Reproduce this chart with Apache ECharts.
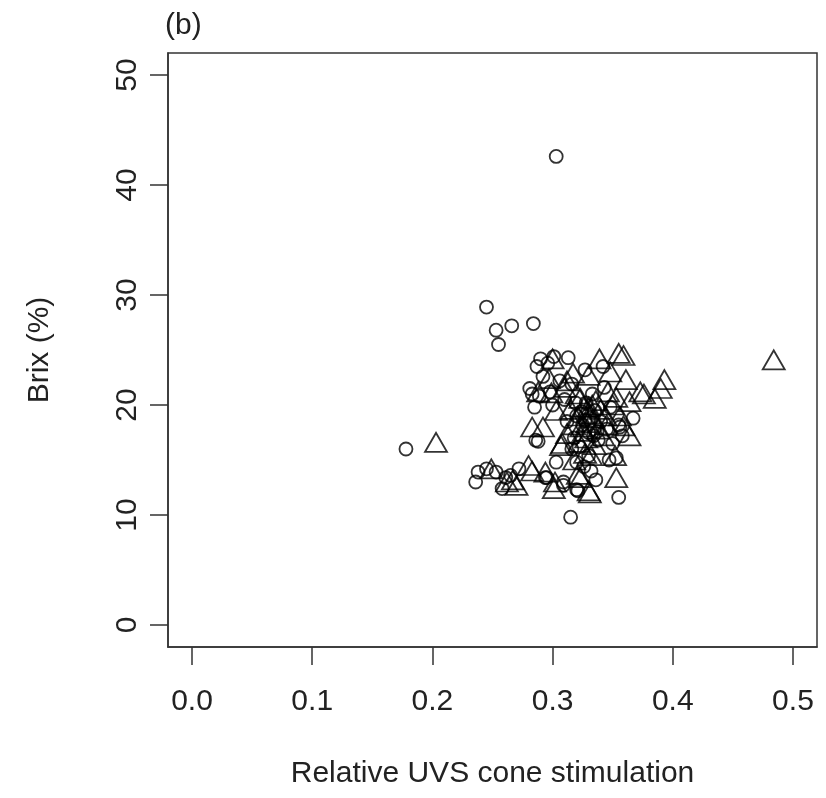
<!DOCTYPE html>
<html>
<head>
<meta charset="utf-8">
<script src="https://cdn.jsdelivr.net/npm/echarts@6/dist/echarts.min.js"></script>
<style>html,body{margin:0;padding:0;background:#fff}#c{width:826px;height:798px}</style>
</head>
<body>
<div id="c"></div>
<script>
// tick labels
const xTicks = [0, 0.1, 0.2, 0.3, 0.4, 0.5];
const yTicks = [0, 10, 20, 30, 40, 50];
// group shown with circles: [relative UVS cone stimulation, Brix %]
const circlePoints = [
  [0.303,42.6],[0.178,16.0],[0.245,28.9],[0.253,26.8],[0.255,25.5],[0.266,27.2],[0.284,27.4],
  [0.290,24.2],[0.301,24.4],[0.313,24.3],[0.287,23.5],[0.296,23.8],[0.281,21.5],[0.285,19.8],
  [0.289,20.8],[0.316,21.9],[0.343,21.6],[0.367,18.8],[0.356,18.0],[0.288,16.7],[0.353,15.2],
  [0.303,14.8],[0.320,14.8],[0.330,15.4],[0.294,13.4],[0.272,14.2],[0.261,13.4],[0.258,12.4],
  [0.309,12.7],[0.321,12.2],[0.332,14.0],[0.355,11.6],[0.315,9.8],[0.236,13.0],[0.238,13.9],
  [0.245,14.2],[0.253,13.9],[0.265,13.6],[0.295,13.4],[0.286,16.8],[0.309,13.0],[0.320,12.3],
  [0.320,19.0],[0.325,18.2],[0.330,17.5],[0.335,19.5],[0.318,17.0],[0.340,18.5],[0.345,17.8],
  [0.328,20.2],[0.312,18.5],[0.338,16.8],[0.322,16.2],[0.348,19.8],[0.333,21.0],[0.310,20.5],
  [0.306,22.2],[0.298,21.2],[0.358,17.2],[0.350,16.5],[0.327,23.2],[0.342,23.5],[0.292,22.6],
  [0.300,20.0],[0.283,21.0],[0.316,16.0],[0.347,15.0],[0.336,13.2],[0.326,14.4],[0.355,18.2],
  [0.324,19.4],[0.331,18.8],[0.337,17.6],[0.319,20.2],[0.327,18.6],[0.334,17.2]
];
// group shown with triangles
const trianglePoints = [
  [0.203,16.6],[0.484,24.1],[0.339,24.2],[0.355,24.7],[0.359,24.5],[0.348,23.0],[0.317,22.9],
  [0.330,22.7],[0.300,24.2],[0.361,22.3],[0.299,21.1],[0.288,21.2],[0.373,21.2],[0.385,20.6],
  [0.393,22.3],[0.390,21.5],[0.353,20.7],[0.323,20.6],[0.303,19.5],[0.283,18.0],[0.292,18.0],
  [0.308,16.5],[0.364,17.2],[0.332,15.4],[0.283,14.0],[0.353,13.4],[0.321,13.7],[0.302,13.0],
  [0.331,12.0],[0.262,13.0],[0.249,14.2],[0.270,12.7],[0.267,13.2],[0.280,14.5],[0.307,16.3],
  [0.301,12.4],[0.323,13.4],[0.352,15.4],[0.359,18.1],[0.327,15.6],[0.294,13.9],[0.330,12.2],
  [0.326,19.8],[0.318,18.2],[0.334,18.8],[0.340,19.6],[0.312,17.4],[0.345,18.2],[0.328,17.0],
  [0.336,20.4],[0.320,21.0],[0.350,20.0],[0.342,17.2],[0.315,19.6],[0.324,18.0],[0.331,19.2],
  [0.338,17.8],[0.310,21.6],[0.346,21.2],[0.356,19.0],[0.322,16.6],[0.318,15.0],[0.364,20.3],
  [0.376,21.0],[0.297,22.4],[0.312,22.2],[0.329,18.4],[0.335,16.4],[0.344,19.0],[0.326,17.6],
  [0.333,20.0],[0.321,19.0],[0.330,19.8]
];

const FONT = '"Liberation Sans", Arial, sans-serif';
const FS = 30;
const chart = echarts.init(document.getElementById('c'), null, {renderer: 'canvas'});
chart.setOption({
  animation: false,
  backgroundColor: '#fff',
  title: {
    text: '(b)', left: 160, top: 6,
    textStyle: {fontFamily: FONT, fontSize: FS, fontWeight: 'normal', color: '#222'}
  },
  grid: {left: 168, right: 9, top: 53, bottom: 151, show: true, borderColor: '#333', borderWidth: 1.5, backgroundColor: 'transparent'},
  xAxis: {
    type: 'value', min: -0.02, max: 0.52, position: 'bottom',
    name: 'Relative UVS cone stimulation', nameLocation: 'middle', nameGap: 127,
    nameTextStyle: {fontFamily: FONT, fontSize: FS, color: '#222', verticalAlign: 'middle'},
    axisLine: {show: true, onZero: false, lineStyle: {color: '#333', width: 1.5}},
    axisTick: {show: true, inside: false, customValues: xTicks, length: 18, lineStyle: {color: '#333', width: 1.5}},
    axisLabel: {customValues: xTicks, margin: 55, verticalAlign: 'middle', fontFamily: FONT, fontSize: FS, color: '#222',
      formatter: v => v.toFixed(1)},
    splitLine: {show: false}
  },
  yAxis: {
    type: 'value', min: -2, max: 52, position: 'left',
    name: 'Brix (%)', nameLocation: 'middle', nameGap: 128, nameRotate: 90,
    nameTextStyle: {fontFamily: FONT, fontSize: FS, color: '#222', verticalAlign: 'middle'},
    axisLine: {show: true, onZero: false, lineStyle: {color: '#333', width: 1.5}},
    axisTick: {show: true, inside: false, customValues: yTicks, length: 18, lineStyle: {color: '#333', width: 1.5}},
    axisLabel: {customValues: yTicks, margin: 40, rotate: 90, align: 'center', verticalAlign: 'middle', fontFamily: FONT, fontSize: FS, color: '#222'},
    splitLine: {show: false}
  },
  series: [
    {type: 'scatter', name: 'circles', data: circlePoints, symbol: 'circle', symbolSize: 13,
      itemStyle: {color: 'rgba(0,0,0,0)', borderColor: '#000', borderWidth: 1.8}},
    {type: 'scatter', name: 'triangles', data: trianglePoints, symbol: 'triangle', symbolSize: [22, 19],
      itemStyle: {color: 'rgba(0,0,0,0)', borderColor: '#000', borderWidth: 1.8}}
  ]
});
</script>
</body>
</html>
